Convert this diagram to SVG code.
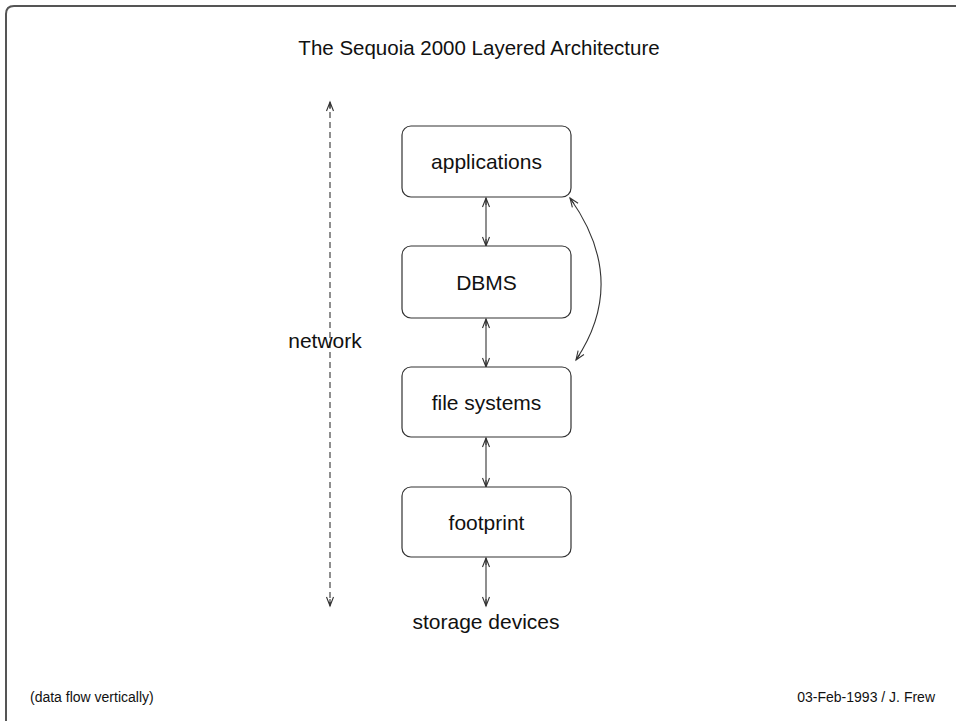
<svg xmlns="http://www.w3.org/2000/svg" width="956" height="721" viewBox="0 0 956 721">
<style>
  .frame{fill:none;stroke:#555;stroke-width:2}
  .box{fill:#fff;stroke:#333;stroke-width:1.2}
  .lbl{font-family:"Liberation Sans",Arial,sans-serif;font-size:21px;fill:#111;text-anchor:middle}
  .small{font-family:"Liberation Sans",Arial,sans-serif;font-size:14px;fill:#111}
  .conn{fill:none;stroke:#333;stroke-width:1.1}
  .dash{stroke-dasharray:6 4}
</style>
<defs>
  <marker id="ah" markerWidth="12" markerHeight="12" refX="10" refY="6" orient="auto-start-reverse" markerUnits="userSpaceOnUse">
    <path d="M1,2.5 L10,6 L1,9.5 M10,6 L3,6" fill="none" stroke="#333" stroke-width="1.1"/>
  </marker>
</defs>
<rect width="956" height="721" fill="#fff"/>
<path class="frame" d="M6,721 L6,14 Q6,6 14,6 L956,6"/>
<text class="lbl" x="479" y="55" style="font-size:20.5px">The Sequoia 2000 Layered Architecture</text>
<g id="connectors">
  <line class="conn dash" x1="330" y1="102" x2="330" y2="606" marker-start="url(#ah)" marker-end="url(#ah)"/>
  <line class="conn" x1="486" y1="198" x2="486" y2="246" marker-start="url(#ah)" marker-end="url(#ah)"/>
  <line class="conn" x1="486" y1="319" x2="486" y2="367" marker-start="url(#ah)" marker-end="url(#ah)"/>
  <line class="conn" x1="486" y1="438" x2="486" y2="487" marker-start="url(#ah)" marker-end="url(#ah)"/>
  <line class="conn" x1="486" y1="558" x2="486" y2="606" marker-start="url(#ah)" marker-end="url(#ah)"/>
  <path class="conn" d="M570,198 Q629,281 576,360" marker-start="url(#ah)" marker-end="url(#ah)"/>
</g>
<g id="applications">
  <rect class="box" x="402" y="126" width="169" height="71" rx="9"/>
  <text class="lbl" x="486.5" y="169">applications</text>
</g>
<g id="dbms">
  <rect class="box" x="402" y="246" width="169" height="72" rx="9"/>
  <text class="lbl" x="486.5" y="290">DBMS</text>
</g>
<g id="filesystems">
  <rect class="box" x="402" y="367" width="169" height="70" rx="9"/>
  <text class="lbl" x="486.5" y="410">file systems</text>
</g>
<g id="footprint">
  <rect class="box" x="402" y="487" width="169" height="70" rx="9"/>
  <text class="lbl" x="486.5" y="530">footprint</text>
</g>
<g id="network">
  <text class="lbl" x="325" y="348">network</text>
</g>
<g id="storage">
  <text class="lbl" x="486" y="629">storage devices</text>
</g>
<text class="small" x="30" y="702">(data flow vertically)</text>
<text class="small" x="935" y="702" text-anchor="end">03-Feb-1993 / J. Frew</text>
</svg>
